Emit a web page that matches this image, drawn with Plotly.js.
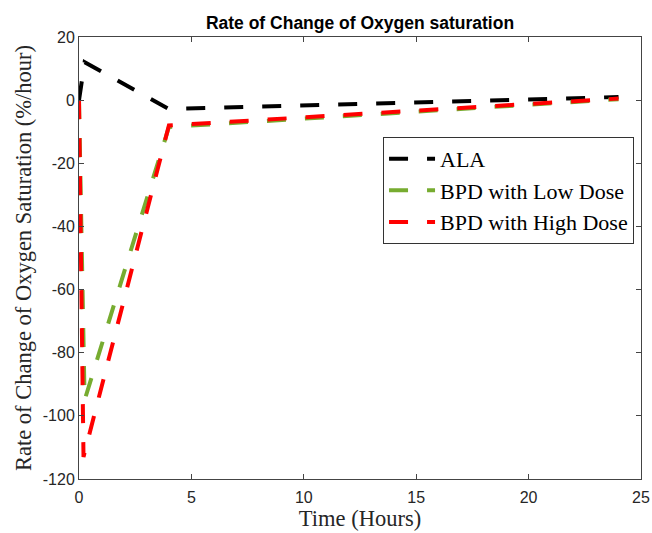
<!DOCTYPE html>
<html><head><meta charset="utf-8">
<script src="https://cdn.plot.ly/plotly-3.0.1.min.js"></script>
<style>html,body{margin:0;padding:0;background:#fff;}#chart{width:652px;height:533px;}</style>
</head><body><div id="chart"></div>
<script>
const timeALA = [0, 0.25, 4, 24];
const ala = [0, 12, -2.8, 1];
const timeLow = [0, 0.25, 4, 24];
const lowDose = [0, -95, -8.5, 0.3];
const timeHigh = [0, 0.2, 4, 24];
const highDose = [0, -113, -8, 0.5];
const seriesNames = ['ALA', 'BPD with Low Dose', 'BPD with High Dose'];
const xTicks = [0, 5, 10, 15, 20, 25];
const yTicks = [20, 0, -20, -40, -60, -80, -100, -120];

const dash = '19px,19px';
const traces = [
  {x: timeALA, y: ala, name: seriesNames[0], mode: 'lines', line: {color: '#000000', width: 4, dash: dash}},
  {x: timeLow, y: lowDose, name: seriesNames[1], mode: 'lines', line: {color: '#77ac30', width: 4, dash: dash}},
  {x: timeHigh, y: highDose, name: seriesNames[2], mode: 'lines', line: {color: '#ff0000', width: 4, dash: dash}}
];
const axisCommon = {
  showline: true, mirror: 'ticks', linecolor: '#444', linewidth: 1,
  ticks: 'inside', ticklen: 5, tickcolor: '#444', showgrid: false, zeroline: false,
  tickfont: {family: 'Liberation Sans, Arial', size: 16, color: '#262626'}
};
const layout = {
  width: 652, height: 533,
  margin: {l: 79, r: 11, t: 37, b: 54},
  paper_bgcolor: '#fff', plot_bgcolor: '#fff',
  title: {text: '<b>Rate of Change of Oxygen saturation</b>', xref: 'paper', x: 0.5, xanchor: 'center', yref: 'container', y: 0.957, yanchor: 'middle',
          font: {family: 'Liberation Sans, Arial', size: 17.5, color: '#000'}},
  xaxis: Object.assign({}, axisCommon, {range: [0, 25], tickvals: xTicks, ticktext: xTicks.map(String), ticklabelstandoff: 4,
          title: {text: 'Time (Hours)', standoff: 4, font: {family: 'Liberation Serif, Times New Roman', size: 22.5, color: '#262626'}}}),
  yaxis: Object.assign({}, axisCommon, {range: [-120, 20], tickvals: yTicks, ticktext: yTicks.map(String),
          title: {text: 'Rate of Change of Oxygen Saturation (%/hour)', standoff: 4, font: {family: 'Liberation Serif, Times New Roman', size: 22.5, color: '#262626'}}}),
  showlegend: true,
  legend: {x: 0.541, y: 0.774, xanchor: 'left', yanchor: 'top', bgcolor: '#fff', bordercolor: '#333', borderwidth: 1,
           font: {family: 'Liberation Serif, Times New Roman', size: 22, color: '#000'}, itemwidth: 46, tracegroupgap: 0}
};
Plotly.newPlot('chart', traces, layout, {displayModeBar: false, staticPlot: true});
</script></body></html>
